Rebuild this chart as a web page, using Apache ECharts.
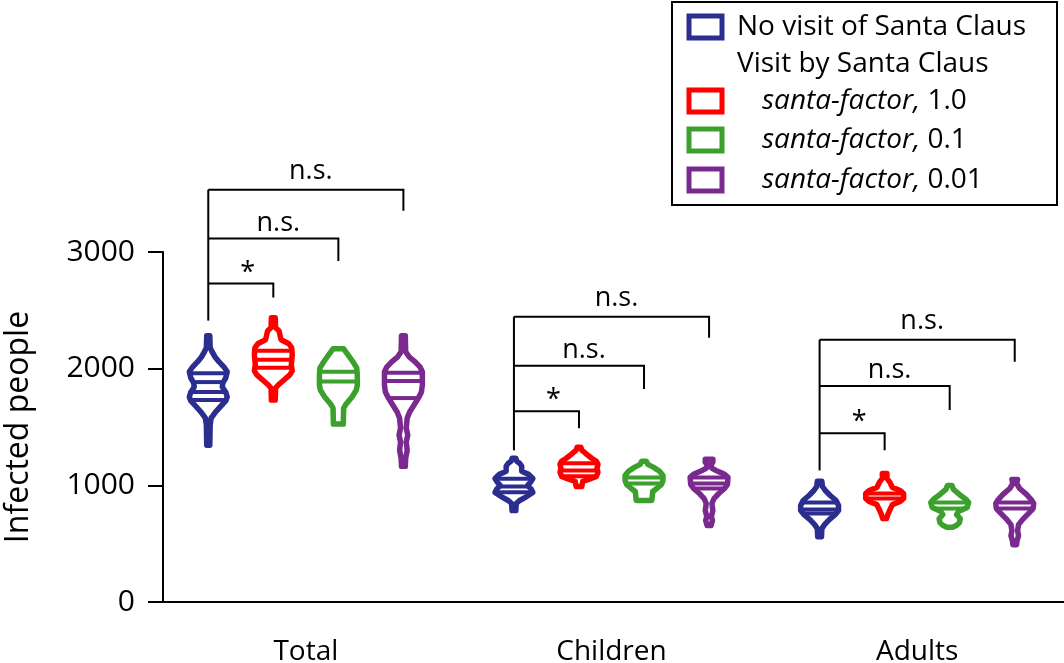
<!DOCTYPE html>
<html><head><meta charset="utf-8">
<script src="https://cdn.jsdelivr.net/npm/echarts@6/dist/echarts.min.js"></script>
<style>html,body{margin:0;padding:0;background:#fff}#c{width:1064px;height:663px}</style>
</head><body><div id="c"></div>
<script>
// ---------- data ----------
const categories = ['Total', 'Children', 'Adults'];
const seriesNames = ['No visit of Santa Claus', 'santa-factor, 1.0', 'santa-factor, 0.1', 'santa-factor, 0.01'];
const legendHeader = 'Visit by Santa Claus';
const seriesColors = ['#2b2e8f', '#ff0000', '#3ba02c', '#7a2a8e'];
const yTicks = [0, 1000, 2000, 3000];

// violin profiles: [value, relative density (0..1)], top to bottom
const noVisitTotal = [[2282,0.08],[2180,0.1],[2145,0.2],[2100,0.36],[2060,0.56],[2016,0.82],[1973,1.0],[1920,0.92],[1878,0.77],[1843,0.74],[1800,0.92],[1757,1.0],[1723,0.92],[1680,0.67],[1628,0.38],[1576,0.15],[1516,0.1],[1344,0.08]];
const noVisitChildren = [[1232,0.1],[1206,0.15],[1189,0.3],[1163,0.41],[1120,0.41],[1094,0.77],[1059,1.0],[1025,0.87],[999,0.72],[965,0.92],[939,1.0],[904,0.67],[870,0.3],[844,0.12],[784,0.1]];
const noVisitAdults = [[1034,0.12],[990,0.15],[956,0.3],[913,0.56],[870,0.87],[827,1.0],[784,1.0],[749,0.82],[706,0.51],[663,0.26],[629,0.12],[560,0.1]];

const santa10Total = [[2437,0.1],[2351,0.12],[2325,0.3],[2282,0.36],[2248,0.41],[2214,0.82],[2179,0.97],[2119,1.0],[2033,0.95],[1981,1.0],[1947,0.87],[1903,0.56],[1860,0.26],[1834,0.12],[1731,0.1]];
const santa10Children = [[1326,0.1],[1301,0.15],[1266,0.41],[1232,0.67],[1206,0.92],[1180,1.0],[1146,0.95],[1111,1.0],[1077,0.92],[1051,0.51],[1034,0.2],[990,0.15]];
const santa10Adults = [[1102,0.12],[1059,0.12],[1025,0.28],[982,0.41],[956,0.82],[930,1.0],[887,1.0],[861,0.82],[835,0.41],[784,0.26],[741,0.15],[715,0.1]];

const santa01Total = [[2170,0.28],[2119,0.51],[2059,0.77],[2007,0.97],[1947,1.0],[1860,1.0],[1817,0.95],[1757,0.72],[1697,0.41],[1662,0.28],[1525,0.26]];
const santa01Children = [[1206,0.12],[1180,0.2],[1154,0.51],[1120,0.82],[1085,1.0],[1042,1.0],[1008,0.92],[973,0.67],[947,0.46],[870,0.41]];
const santa01Adults = [[999,0.12],[965,0.2],[922,0.51],[878,0.87],[853,1.0],[810,0.92],[775,0.46],[749,0.36],[715,0.56],[680,0.51],[655,0.35],[640,0.15]];

const santa001Total = [[2282,0.1],[2145,0.12],[2102,0.3],[2059,0.62],[2016,0.87],[1973,1.0],[1860,1.0],[1800,0.95],[1757,0.82],[1688,0.56],[1628,0.33],[1576,0.2],[1490,0.15],[1430,0.23],[1370,0.15],[1301,0.2],[1232,0.12],[1163,0.1]];
const santa001Children = [[1223,0.2],[1197,0.2],[1180,0.1],[1146,0.15],[1120,0.46],[1094,0.82],[1068,1.0],[1008,0.97],[973,0.82],[930,0.51],[887,0.26],[844,0.15],[784,0.2],[732,0.12],[698,0.18],[655,0.1]];
const santa001Adults = [[1051,0.15],[1016,0.1],[973,0.26],[922,0.62],[878,0.87],[844,1.0],[801,0.97],[758,0.72],[706,0.41],[663,0.2],[612,0.15],[568,0.2],[525,0.12],[491,0.1]];

// median / quartile lines inside each violin
const noVisitLines = [[1960,1885,1800,1731],[1057,990,940],[853,792,758]];
const santa10Lines = [[2153,2076,2007],[1189,1128,1077],[930,887]];
const santa01Lines = [[1973,1890],[1068,1016],[853,801]];
const santa001Lines = [[1966,1895,1748],[1068,1016,973],[853,801]];

// significance brackets (from the no-visit violin to the target group)
const bracketCategory = [0,0,0,1,1,1,2,2,2];
const bracketTarget   = [1,2,3,1,2,3,1,2,3];
const bracketHeight   = [2730,3115,3534,1636,2024,2446,1447,1852,2248];
const bracketLegEnd   = [2610,2922,3353,1490,1826,2265,1301,1645,2059];
const bracketLabel    = ['*','n.s.','n.s.','*','n.s.','n.s.','*','n.s.','n.s.'];
const stemBottom      = [2412,1300,1128];

// ---------- assembly ----------
const shapes = [
  [noVisitTotal, noVisitChildren, noVisitAdults],
  [santa10Total, santa10Children, santa10Adults],
  [santa01Total, santa01Children, santa01Adults],
  [santa001Total, santa001Children, santa001Adults]
];
const lines = [noVisitLines, santa10Lines, santa01Lines, santa001Lines];

const FONT = '"Open Sans", sans-serif';
const GROUP_STEP = 0.2128;   // fraction of the category band between violins
const HALF_WIDTH = 0.062;    // max half width as fraction of the band

function groupX(api, cat, g) {
  const band = api.size([1, 0])[0];
  return api.coord([cat, 0])[0] + (g - 1.5) * GROUP_STEP * band;
}
function interpW(prof, v) {
  for (let i = 0; i < prof.length - 1; i++) {
    const a = prof[i], b = prof[i + 1];
    if ((v <= a[0] && v >= b[0])) {
      const t = (a[0] - v) / (a[0] - b[0]);
      return a[1] + t * (b[1] - a[1]);
    }
  }
  return 0;
}

function violinRenderer(g) {
  return function (params, api) {
    const cat = api.value(0);
    const band = api.size([1, 0])[0];
    const hw = HALF_WIDTH * band;
    const cx = groupX(api, cat, g);
    const prof = shapes[g][cat];
    const right = prof.map(p => [cx + p[1] * hw, api.coord([cat, p[0]])[1]]);
    const left = prof.slice().reverse().map(p => [cx - p[1] * hw, api.coord([cat, p[0]])[1]]);
    const children = [{
      type: 'polygon',
      shape: { points: right.concat(left) },
      style: { fill: '#fff', stroke: seriesColors[g], lineWidth: 5.5, lineJoin: 'round' }
    }];
    lines[g][cat].forEach(q => {
      const w = interpW(prof, q) * hw;
      const y = api.coord([cat, q])[1];
      children.push({
        type: 'line',
        shape: { x1: cx - w, y1: y, x2: cx + w, y2: y },
        style: { stroke: seriesColors[g], lineWidth: 4 }
      });
    });
    return { type: 'group', children };
  };
}

const violinSeries = seriesNames.map((name, g) => ({
  name,
  type: 'custom',
  renderItem: violinRenderer(g),
  data: categories.map((c, i) => [i]),
  encode: { x: 0 },
  itemStyle: { color: seriesColors[g] },
  silent: true
}));

const bracketData = bracketCategory.map((c, i) => [c, bracketTarget[i], bracketHeight[i], bracketLegEnd[i]]);
const bracketSeries = {
  type: 'custom',
  silent: true,
  data: bracketData,
  encode: { x: 0, y: 2 },
  renderItem: function (params, api) {
    const cat = api.value(0), tg = api.value(1);
    const x0 = groupX(api, cat, 0), x1 = groupX(api, cat, tg);
    const y = api.coord([cat, api.value(2)])[1];
    const yl = api.coord([cat, api.value(3)])[1];
    const label = bracketLabel[params.dataIndex];
    const star = label === '*';
    const gap = star ? -3 : (tg === 3 ? 5 : 2);
    return {
      type: 'group',
      children: [{
        type: 'polyline',
        shape: { points: [[x0, y], [x1, y], [x1, yl]] },
        style: { stroke: '#000', lineWidth: 2, fill: null }
      }, {
        type: 'text',
        style: {
          text: label, x: (x0 + x1) / 2 + (star ? 7 : 5), y: y - gap,
          fill: '#000', fontSize: 27, fontFamily: FONT, align: 'center', verticalAlign: 'bottom'
        }
      }]
    };
  }
};

const stemSeries = {
  type: 'custom',
  silent: true,
  data: stemBottom.map((b, i) => [i, Math.max(...bracketHeight.filter((h, k) => bracketCategory[k] === i)), b]),
  encode: { x: 0, y: 1 },
  renderItem: function (params, api) {
    const cat = api.value(0);
    const x = groupX(api, cat, 0);
    return {
      type: 'line',
      shape: { x1: x, y1: api.coord([cat, api.value(1)])[1], x2: x, y2: api.coord([cat, api.value(2)])[1] },
      style: { stroke: '#000', lineWidth: 2 }
    };
  }
};

// legend drawn as graphic
const legendRows = [27, 64, 101, 140, 180];
const LFS = 28;
const legendEls = [{
  type: 'rect', shape: { x: 672, y: 2, width: 385, height: 203 },
  style: { fill: '#fff', stroke: '#000', lineWidth: 2 }
}];
const legendEntries = [
  { kind: 'series', idx: 0 }, { kind: 'header' },
  { kind: 'series', idx: 1 }, { kind: 'series', idx: 2 }, { kind: 'series', idx: 3 }
];
legendEntries.forEach((e, r) => {
  const y = legendRows[r];
  if (e.kind === 'header') {
    legendEls.push({ type: 'text', style: { text: legendHeader, x: 737, y, fill: '#000', fontSize: LFS, fontFamily: FONT, verticalAlign: 'middle' } });
    return;
  }
  legendEls.push({ type: 'rect', shape: { x: 689, y: y - 11, width: 33, height: 22 },
    style: { fill: '#fff', stroke: seriesColors[e.idx], lineWidth: 5 } });
  const name = seriesNames[e.idx];
  if (e.idx === 0) {
    legendEls.push({ type: 'text', style: { text: name, x: 737, y, fill: '#000', fontSize: LFS, fontFamily: FONT, verticalAlign: 'middle' } });
  } else {
    const parts = name.split(', ');
    legendEls.push({ type: 'text', style: {
      text: '{i|' + parts[0] + ',} ' + parts[1], x: 762, y, fill: '#000', fontSize: LFS, fontFamily: FONT, verticalAlign: 'middle',
      rich: { i: { fontStyle: 'italic', fontSize: LFS, fontFamily: FONT, fill: '#000' } }
    } });
  }
});

const chart = echarts.init(document.getElementById('c'), null, { renderer: 'canvas' });
chart.setOption({
  backgroundColor: '#fff',
  animation: false,
  grid: { left: 153, right: -6, top: 252, bottom: 61, containLabel: false, outerBoundsMode: 'none' },
  xAxis: {
    type: 'category', data: categories, boundaryGap: true,
    axisLine: { lineStyle: { color: '#000', width: 2 } },
    axisTick: { alignWithLabel: true, length: 16, lineStyle: { color: '#000', width: 2 } },
    axisLabel: { color: '#000', fontSize: 28, fontFamily: FONT, margin: 36 },
    splitLine: { show: false }
  },
  yAxis: {
    type: 'value', min: yTicks[0], max: yTicks[yTicks.length - 1], interval: 1000, offset: -10,
    name: 'Infected people', nameLocation: 'middle', nameGap: 128, nameRotate: 90,
    nameTextStyle: { color: '#000', fontSize: 32, fontFamily: FONT },
    axisLine: { show: true, lineStyle: { color: '#000', width: 2 } },
    axisTick: { show: true, length: 15, lineStyle: { color: '#000', width: 2 } },
    axisLabel: { color: '#000', fontSize: 30, fontFamily: FONT, margin: 28, formatter: v => String(v) },
    splitLine: { show: false }
  },
  graphic: legendEls,
  series: violinSeries.concat([stemSeries, bracketSeries])
});
</script>
</body></html>
